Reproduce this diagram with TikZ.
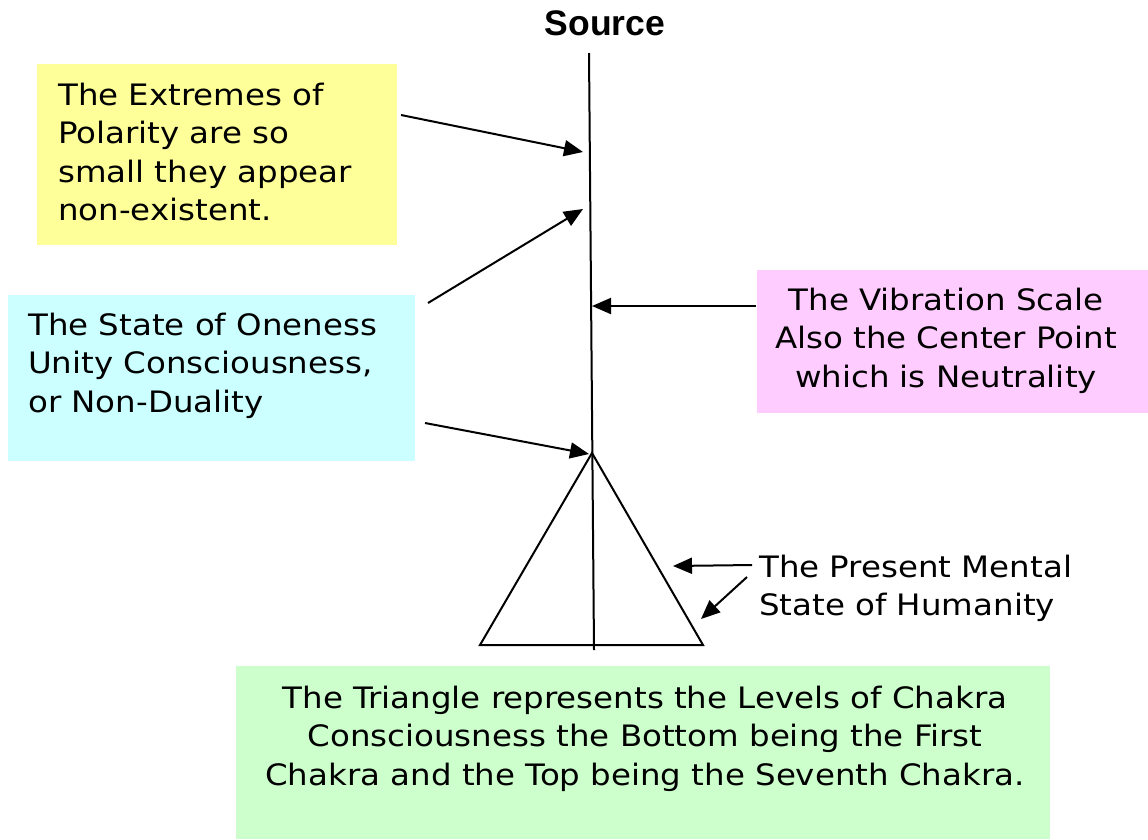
\documentclass[tikz,border=0pt]{standalone}
\usepackage{fontspec}
\setmainfont{DejaVu Sans}[FakeStretch=1.1]
\newfontfamily\srcfont{Liberation Sans}
\usetikzlibrary{arrows.meta}
\definecolor{cYellow}{HTML}{FFFF99}
\definecolor{cCyan}{HTML}{CCFFFF}
\definecolor{cPink}{HTML}{FFCCFF}
\definecolor{cGreen}{HTML}{CCFFCC}
\begin{document}
\begin{tikzpicture}[x=1pt,y=-1pt,
  box/.style={draw=none,inner sep=0pt,anchor=north west},
  lbl/.style={inner sep=0pt,font=\fontsize{29.5}{38.5}\selectfont},
  arr/.style={line width=2pt,-{Triangle[length=19pt,width=16pt]}},
  ln/.style={line width=2pt}]
\useasboundingbox (0,0) rectangle (1148,839);
% boxes
\node[box,fill=cYellow,minimum width=360pt,minimum height=181pt] (ybox) at (37,64) {};
\node[box,fill=cCyan,minimum width=407pt,minimum height=166pt] (cbox) at (8,295) {};
\node[box,fill=cPink,minimum width=391pt,minimum height=143pt] (pbox) at (757,270) {};
\node[box,fill=cGreen,minimum width=814pt,minimum height=173pt] (gbox) at (236,666) {};
% texts (base anchor = baseline of the last line)
\node[inner sep=0pt,anchor=base,font=\srcfont\bfseries\fontsize{35.5}{40}\selectfont] (src) at (605,35) {Source};
\node[lbl,anchor=base west,align=left] (ytext) at (58,220.5) {The Extremes of\\Polarity are so\\small they appear\\non-existent.};
\node[lbl,anchor=base west,align=left] (ctext) at (28,412) {The State of Oneness\\Unity Consciousness,\\or Non-Duality};
\node[lbl,anchor=base,align=center] (ptext) at (946,387) {The Vibration Scale\\Also the Center Point\\which is Neutrality};
\node[lbl,anchor=base,align=center] (gtext) at (645,785) {The Triangle represents the Levels of Chakra\\Consciousness the Bottom being the First\\Chakra and the Top being the Seventh Chakra.};
\node[lbl,anchor=base west,align=left] (htext) at (759,615.5) {The Present Mental\\State of Humanity};
% scale line and triangle
\coordinate (top) at (589,53);
\coordinate (bot) at (594,650);
\coordinate (apex) at (592,453);
\coordinate (bl) at (480,645);
\coordinate (br) at (703,645);
\draw[ln] (top) -- (bot);
\draw[ln,line join=miter] (apex) -- (bl) -- (br) -- cycle;
% arrow ends
\coordinate (a1s) at (401,115); \coordinate (a1e) at (583,152);
\coordinate (a2s) at (428,303); \coordinate (a2e) at (583,209);
\coordinate (a3s) at (425,423); \coordinate (a3e) at (589,454);
\coordinate (a4s) at (756,306); \coordinate (a4e) at (592,306);
\coordinate (a5s) at (752,565); \coordinate (a5e) at (673,566);
\coordinate (a6s) at (747,577); \coordinate (a6e) at (701,619);
\draw[arr] (a1s) -- (a1e);
\draw[arr] (a2s) -- (a2e);
\draw[arr] (a3s) -- (a3e);
\draw[arr] (a4s) -- (a4e);
\draw[arr] (a5s) -- (a5e);
\draw[arr] (a6s) -- (a6e);
\end{tikzpicture}
\end{document}
